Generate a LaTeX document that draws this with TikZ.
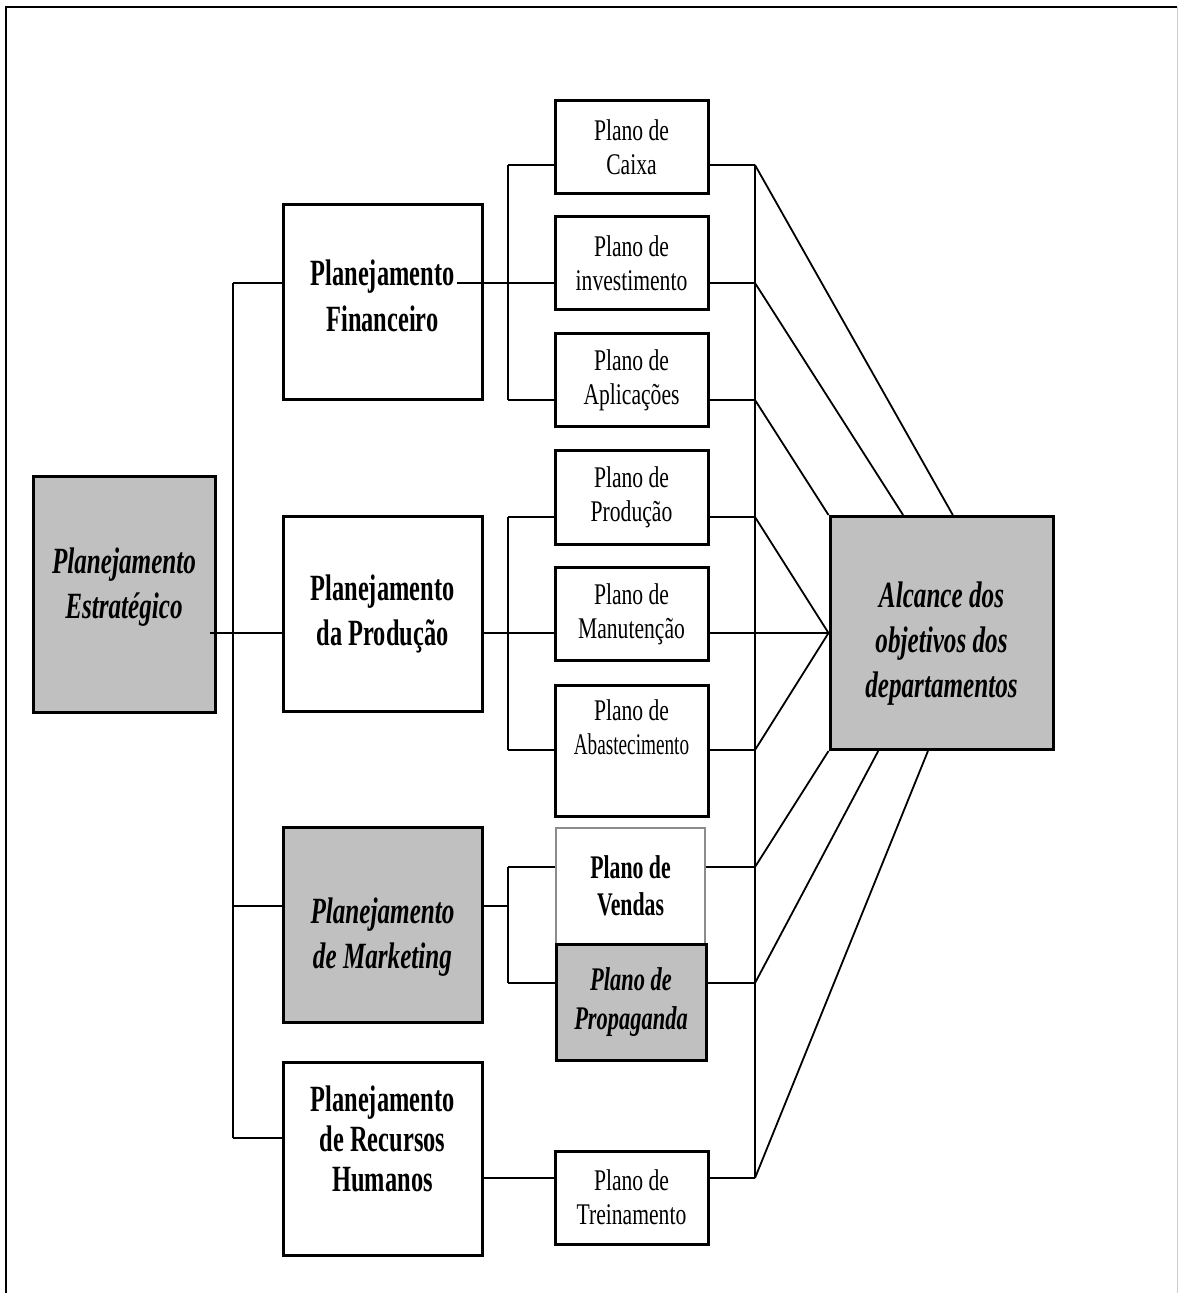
\documentclass[tikz,border=0pt]{standalone}
\usepackage{fontspec}
\setmainfont{Liberation Serif}[UprightFeatures={FakeStretch=0.72},
  BoldFeatures={FakeStretch=0.66},
  ItalicFeatures={FakeStretch=0.70},
  BoldItalicFeatures={FakeStretch=0.68}]
\usetikzlibrary{calc}
\definecolor{boxgray}{HTML}{C0C0C0}

\begin{document}
\begin{tikzpicture}[x=0.5pt,y=-0.5pt,
    nivel/.style={draw,line width=1.5pt,minimum width=99.5pt,minimum height=97.5pt,
      inner sep=0pt,align=center,font=\fontsize{18.5}{22.5}\selectfont\bfseries},
    plano/.style={draw,line width=1.5pt,minimum width=76.5pt,minimum height=46.5pt,
      inner sep=0pt,align=center,font=\fontsize{15}{17}\selectfont},
    cinza/.style={fill=boxgray}]

      \useasboundingbox (0,0) rectangle (1178,1293);
      \draw[line width=1.4pt] (6,1293) -- (6,7) -- (1177,7);
      \draw[black!20,line width=0.5pt] (1177,7) -- (1177,1293);

      \begin{scope}
        \node[nivel,cinza,minimum width=91pt,minimum height=117.5pt,
          font=\fontsize{18.5}{22.5}\selectfont\bfseries\itshape] (pe) at (124,594.5)
          {Planejamento\\Estratégico\\[-11.5pt]\mbox{}};
        \node[nivel,font=\fontsize{18.5}{23}\selectfont\bfseries] (pf) at (382.5,302.5)
          {Planejamento\\Financeiro\\[-16.5pt]\mbox{}};
        \node[nivel] (pp) at (382.5,613.5) {Planejamento\\da Produção};
        \node[nivel,cinza,font=\fontsize{18.5}{22.5}\selectfont\bfseries\itshape] (pm) at (382.5,924.5)
          {\mbox{}\\[3pt]Planejamento\\de Marketing};
        \node[nivel,minimum height=96.5pt,font=\fontsize{18.5}{20}\selectfont\bfseries] (ph) at (382.5,1158.5)
          {Planejamento\\de Recursos\\Humanos\\[0pt]\mbox{}};
      \end{scope}

      \begin{scope}
        \node[plano] (caixa) at (631.5,147) {Plano de\\Caixa};
        \node[plano] (invest) at (631.5,263.5) {Plano de\\investimento};
        \node[plano] (aplic) at (631.5,380.5) {Plano de\\Aplicações};
        \node[plano] (prodp) at (631.5,497.5) {Plano de\\Produção};
        \node[plano] (manut) at (631.5,614) {Plano de\\Manutenção};
        \node[plano,minimum height=65.5pt] (abast) at (631.5,750.5)
          {Plano de\\\scalebox{0.89}[1]{Abastecimento}\\[6pt]\mbox{}};
        \node[plano,draw=black!45,line width=0.6pt,minimum width=74.5pt,minimum height=58pt,
          font=\fontsize{16.5}{18.5}\selectfont\bfseries] (vendas) at (630.5,886) {Plano de\\Vendas};
        \node[plano,cinza,minimum width=75pt,minimum height=58pt,
          font=\fontsize{16.5}{19.5}\selectfont\bfseries\itshape] (propag) at (631,1002) {Plano de\\Propaganda};
        \node[plano] (trein) at (631.5,1197.5) {Plano de\\Treinamento};
        \node[nivel,cinza,minimum width=111.5pt,minimum height=116.5pt,
          font=\fontsize{18.5}{22.5}\selectfont\bfseries\itshape] (alc) at (941.5,633)
          {\mbox{}\\[0.8pt]Alcance dos\\objetivos dos\\departamentos};
      \end{scope}

      \coordinate (tF) at (233,283);
      \coordinate (tP) at (233,633);
      \coordinate (tM) at (233,906);
      \coordinate (tH) at (233,1138);
      \coordinate (bF1) at (508,165);
      \coordinate (bF3) at (508,400);
      \coordinate (bP1) at (508,517);
      \coordinate (bP3) at (508,750);
      \coordinate (bM1) at (508,867);
      \coordinate (bM2) at (508,983);
      \coordinate (r1) at (755,165);
      \coordinate (r2) at (755,283);
      \coordinate (r3) at (755,400);
      \coordinate (r4) at (755,517);
      \coordinate (r5) at (755,633);
      \coordinate (r6) at (755,750);
      \coordinate (r7) at (755,867);
      \coordinate (r8) at (755,983);
      \coordinate (r9) at (755,1178);

      \begin{scope}[line width=0.9pt,
          every edge/.style={draw=black}]
        % left side
        \draw (tF) -- (tH);
        \path (tF) edge (pf.west |- tF);
        \path (tM) edge (pm.west |- tM);
        \path (tH) edge (ph.west |- tH);
        \draw (pe.east |- tP) ++(-7,0) -- (pp.west |- tP);
        % buses of the plans
        \draw (pf.east |- tF) ++(-27,0) -- (invest.west |- tF);
        \draw (bF1) -- (bF3);
        \path (bF1) edge (caixa.west |- bF1);
        \path (bF3) edge (aplic.west |- bF3);
        \path (pp.east |- tP) edge (manut.west |- tP);
        \draw (bP1) -- (bP3);
        \path (bP1) edge (prodp.west |- bP1);
        \path (bP3) edge (abast.west |- bP3);
        \path (pm.east |- tM) edge (bM1 |- tM);
        \draw (bM1) -- (bM2);
        \path (bM1) edge (vendas.west |- bM1);
        \path (bM2) edge (propag.west |- bM2);
        \path (ph.east |- r9) edge (trein.west |- r9);
        % right side
        \draw (r1) -- (r9);
        \path (caixa.east |- r1) edge (r1);
        \path (invest.east |- r2) edge (r2);
        \path (aplic.east |- r3) edge (r3);
        \path (prodp.east |- r4) edge (r4);
        \path (manut.east |- r5) edge (r5);
        \path (abast.east |- r6) edge (r6);
        \path (vendas.east |- r7) edge (r7);
        \path (propag.east |- r8) edge (r8);
        \path (trein.east |- r9) edge (r9);
        % towards the goal
        \path (r1) edge ($(alc.north west)!0.55!(alc.north east)$);
        \path (r2) edge ($(alc.north west)!0.33!(alc.north east)$);
        \path (r3) edge (alc.north west);
        \path (r4) edge (alc.west);
        \path (r5) edge (alc.west);
        \path (r6) edge (alc.west);
        \path (r7) edge (alc.south west);
        \path (r8) edge ($(alc.south west)!0.22!(alc.south east)$);
        \path (r9) edge ($(alc.south west)!0.44!(alc.south east)$);
      \end{scope}
    \end{tikzpicture}
\end{document}
